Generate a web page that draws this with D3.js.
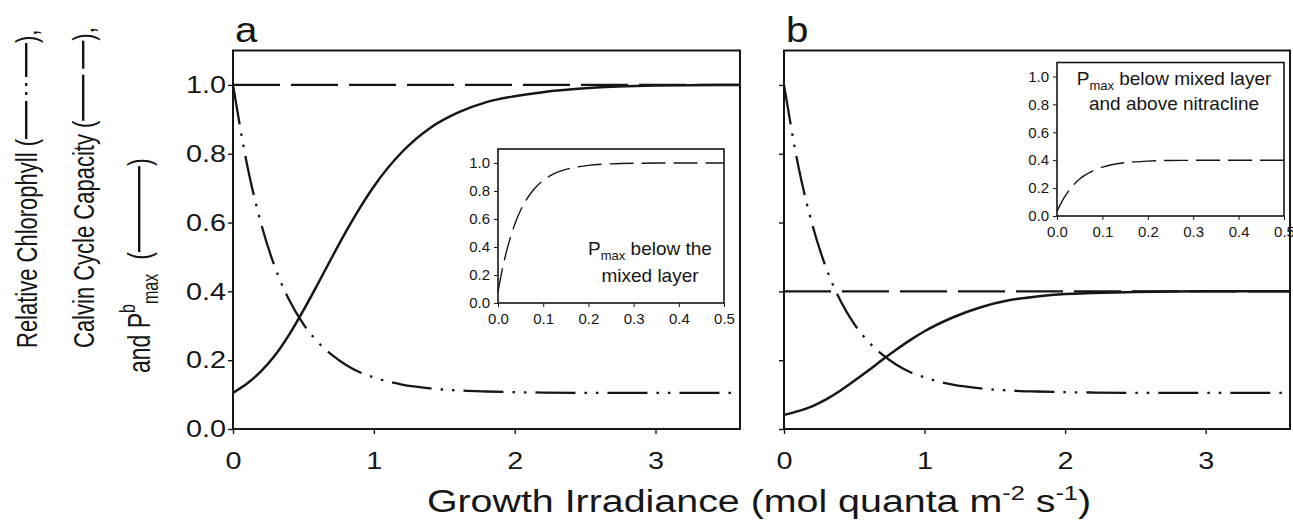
<!DOCTYPE html>
<html>
<head>
<meta charset="utf-8">
<script src="https://cdn.jsdelivr.net/npm/d3@7"></script>
<style>
  body { margin: 0; background: #fff; }
  svg { display: block; }
  text { font-family: "Liberation Sans", Arial, Helvetica, sans-serif; fill: #161616; }
</style>
</head>
<body>
<svg id="chart" width="1293" height="521"></svg>
<script>
// Growth irradiance (mol quanta m-2 s-1) at which the curves are sampled
const irradiance = [0, 0.1, 0.2, 0.3, 0.4, 0.5, 0.6, 0.7, 0.8, 0.9, 1.0, 1.2, 1.4, 1.6, 1.8, 2.0, 2.2, 2.5, 3.0, 3.6];
// Relative chlorophyll (same in both panels)
const chlorophyll = [1.0, 0.768, 0.596, 0.468, 0.374, 0.305, 0.254, 0.216, 0.187, 0.165, 0.150, 0.129, 0.118, 0.112, 0.109, 0.107, 0.106, 0.105, 0.105, 0.105];
// P^b_max, panel a and panel b
const pmaxA = [0.105, 0.132, 0.168, 0.215, 0.275, 0.345, 0.42, 0.497, 0.572, 0.642, 0.705, 0.805, 0.875, 0.92, 0.95, 0.967, 0.979, 0.99, 0.998, 1.0];
const pmaxB = [0.041, 0.052, 0.066, 0.086, 0.111, 0.140, 0.170, 0.201, 0.231, 0.259, 0.284, 0.324, 0.354, 0.374, 0.385, 0.392, 0.395, 0.398, 0.4, 0.4];
// Calvin cycle capacity (constant)
const calvinIrradiance = [0, 3.6];
const calvinA = [1.0, 1.0];
const calvinB = [0.4, 0.4];

// Inset curves: Pmax against irradiance 0-0.5
const insetIrradiance = [0, 0.01, 0.02, 0.03, 0.04, 0.05, 0.06, 0.08, 0.10, 0.12, 0.15, 0.2, 0.25, 0.3, 0.4, 0.5];
const insetPmaxA = [0.08, 0.247, 0.383, 0.495, 0.587, 0.662, 0.723, 0.814, 0.875, 0.917, 0.954, 0.983, 0.994, 0.998, 1.0, 1.0];
const insetPmaxB = [0.032, 0.099, 0.153, 0.198, 0.235, 0.265, 0.289, 0.326, 0.35, 0.367, 0.382, 0.393, 0.398, 0.399, 0.4, 0.4];

const yTicks = [0, 0.2, 0.4, 0.6, 0.8, 1.0];
const xTicks = [0, 1, 2, 3];
const insetXTicks = [0, 0.1, 0.2, 0.3, 0.4, 0.5];
const panelLabels = ["a", "b"];
const insetTextA = [["P", "max", " below the"], ["mixed layer"]];
const insetTextB = [["P", "max", " below mixed layer"], ["and above nitracline"]];

const svg = d3.select("#chart");
svg.append("rect").attr("width", 1293).attr("height", 521).attr("fill", "#fff");

const INK = "#161616";
const FONT = '"Liberation Sans", Arial, sans-serif';
const WIDE = 1.2;          // horizontal stretch of the large lettering
const fmt = d3.format(".1f");

function zip(xs, ys) { return xs.map((x, i) => [x, ys[i]]); }

function drawPanel(cfg) {
  const x = d3.scaleLinear().domain([0, 3.6]).range([cfg.left, cfg.right]);
  const y = d3.scaleLinear().domain([0, 1.1]).range([429, 50.5]);
  const g = svg.append("g");

  const yAxis = d3.axisLeft(y).tickValues(yTicks).tickSize(5).tickPadding(6)
    .tickFormat(cfg.yLabels ? fmt : "");
  const ya = g.append("g").attr("transform", `translate(${cfg.left},0)`).call(yAxis);
  const xAxis = d3.axisBottom(x).tickValues(xTicks).tickSize(5).tickPadding(18).tickFormat(d3.format("d"));
  const xa = g.append("g").attr("transform", `translate(0,429)`).call(xAxis);
  [ya, xa].forEach(a => {
    a.select(".domain").remove();
    a.selectAll(".tick line").attr("stroke", INK).attr("stroke-width", 1.4);
    a.selectAll(".tick text").attr("font-size", 24).attr("fill", INK)
      .style("font-family", FONT).attr("transform", `scale(${WIDE},1)`);
  });
  ya.selectAll(".tick text").attr("x", -7 / WIDE);

  const line = d3.line().x(d => x(d[0])).y(d => y(d[1])).curve(d3.curveMonotoneX);

  // Calvin cycle capacity (long dashes)
  g.append("path").datum(zip(calvinIrradiance, cfg.calvin)).attr("d", line)
    .attr("fill", "none").attr("stroke", INK).attr("stroke-width", 2.3)
    .attr("stroke-dasharray", "47,11");
  // relative chlorophyll (dash-dot-dot)
  g.append("path").datum(zip(irradiance, chlorophyll)).attr("d", line)
    .attr("fill", "none").attr("stroke", INK).attr("stroke-width", 2.3)
    .attr("stroke-dasharray", "40,9,2.5,9,2.5,9");
  // P^b_max (solid)
  g.append("path").datum(zip(irradiance, cfg.pmax)).attr("d", line)
    .attr("fill", "none").attr("stroke", INK).attr("stroke-width", 2.5);

  // frame
  g.append("rect").attr("x", cfg.left).attr("y", 50.5)
    .attr("width", cfg.right - cfg.left).attr("height", 429 - 50.5)
    .attr("fill", "none").attr("stroke", INK).attr("stroke-width", 2);

  // panel letter
  g.append("text").attr("transform", `translate(${cfg.left + 2},42) scale(1.15,1)`)
    .attr("font-size", 35).text(cfg.label);

  drawInset(cfg.inset);
}

function drawInset(c) {
  const x = d3.scaleLinear().domain([0, 0.5]).range([c.left, c.right]);
  const y = d3.scaleLinear().domain([0, 1.1]).range([c.bottom, c.top]);
  const g = svg.append("g");
  g.append("rect").attr("x", c.left).attr("y", c.top)
    .attr("width", c.right - c.left).attr("height", c.bottom - c.top)
    .attr("fill", "#fff").attr("stroke", INK).attr("stroke-width", 1.6);

  const ya = g.append("g").attr("transform", `translate(${c.left},0)`)
    .call(d3.axisLeft(y).tickValues(yTicks).tickSize(4).tickPadding(4).tickFormat(fmt));
  const xa = g.append("g").attr("transform", `translate(0,${c.bottom})`)
    .call(d3.axisBottom(x).tickValues(insetXTicks).tickSize(4).tickPadding(6).tickFormat(fmt));
  [ya, xa].forEach(a => {
    a.select(".domain").remove();
    a.selectAll(".tick line").attr("stroke", INK).attr("stroke-width", 1);
    a.selectAll(".tick text").attr("font-size", 15).attr("fill", INK).style("font-family", FONT);
  });

  const line = d3.line().x(d => x(d[0])).y(d => y(d[1])).curve(d3.curveMonotoneX);
  g.append("path").datum(zip(insetIrradiance, c.values)).attr("d", line)
    .attr("fill", "none").attr("stroke", INK).attr("stroke-width", 1.4)
    .attr("stroke-dasharray", "24,8");

  c.text.forEach((parts, i) => {
    const t = g.append("text").attr("x", c.textX).attr("y", c.textY + i * c.lineGap)
      .attr("text-anchor", "middle").attr("font-size", 19);
    if (parts.length === 1) {
      t.text(parts[0]);
    } else {
      t.append("tspan").text(parts[0]);
      t.append("tspan").attr("font-size", 13).attr("dy", 5).text(parts[1]);
      t.append("tspan").attr("dy", -5).text(parts[2]);
    }
  });
}

drawPanel({
  left: 233, right: 740, label: panelLabels[0], yLabels: true,
  pmax: pmaxA, calvin: calvinA,
  inset: { left: 498, right: 724, top: 149, bottom: 303, values: insetPmaxA,
           text: insetTextA, textX: 650, textY: 255, lineGap: 26.5 }
});
drawPanel({
  left: 784, right: 1290, label: panelLabels[1], yLabels: false,
  pmax: pmaxB, calvin: calvinB,
  inset: { left: 1057, right: 1284, top: 62.5, bottom: 216, values: insetPmaxB,
           text: insetTextB, textX: 1174, textY: 85, lineGap: 25 }
});

// x-axis title
const xt = svg.append("text").attr("transform", "translate(759,512) scale(1.27,1)")
  .attr("text-anchor", "middle").attr("font-size", 31);
xt.append("tspan").text("Growth Irradiance (mol quanta m");
xt.append("tspan").attr("font-size", 20).attr("dy", -12).text("-2");
xt.append("tspan").attr("dy", 12).text(" s");
xt.append("tspan").attr("font-size", 20).attr("dy", -12).text("-1");
xt.append("tspan").attr("dy", 12).text(")");

// y-axis title: three rotated lines, each with an inline line-style sample
function titleLine(baseX, startY, pieces) {
  const g = svg.append("g").attr("transform", `translate(${baseX},${startY}) scale(1.35,1) rotate(-90)`);
  let pos = 0;
  pieces.forEach(p => {
    if (p.gap) { pos += p.gap; return; }
    if (p.text !== undefined) {
      const t = g.append("text").attr("x", pos).attr("y", p.dy || 0)
        .attr("font-size", p.size || 22).text(p.text);
      pos += t.node().getComputedTextLength();
    } else {
      g.append("line").attr("x1", pos).attr("x2", pos + p.len)
        .attr("y1", -8).attr("y2", -8).attr("stroke", INK).attr("stroke-width", 1.8)
        .attr("stroke-dasharray", p.dash || null);
      pos += p.len;
    }
  });
}
titleLine(37, 348, [
  { text: "Relative Chlorophyll (" },
  { len: 96, dash: "38,6,3,6,3,6,34" },
  { text: ")," }
]);
titleLine(94, 348, [
  { text: "Calvin Cycle Capacity (" },
  { len: 80, dash: "46,6,28" },
  { text: ")," }
]);
titleLine(150, 373, [
  { text: "and P", size: 23 },
  { text: "b", size: 16, dy: -11 },
  { text: "max", size: 16, dy: 6 },
  { gap: 14 },
  { text: "(", size: 23 },
  { len: 86 },
  { text: ")", size: 23 }
]);
</script>
</body>
</html>
